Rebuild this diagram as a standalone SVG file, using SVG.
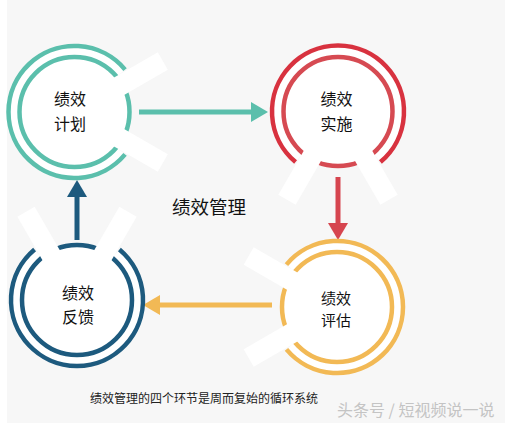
<svg xmlns="http://www.w3.org/2000/svg" width="505" height="423" viewBox="0 0 505 423">
  <defs>
    <style>
      .bg { fill: #f7f7f7; }
      .disc { fill: #ffffff; }
      .band { fill: none; stroke: #ffffff; stroke-width: 12; }
      .ring { fill: none; stroke-width: 4.5; }
      .bar { fill: #ffffff; }
      .lbl { font-family: "Noto Sans CJK SC", "Noto Sans", sans-serif; font-size: 16px; fill: #111111; text-anchor: middle; }
      .lbl-tight { font-size: 15px; }
      .title { font-family: "Noto Sans CJK SC", "Noto Sans", sans-serif; font-size: 18.5px; fill: #111111; }
      .cap { font-family: "Noto Sans CJK SC", "Noto Sans", sans-serif; font-size: 12px; fill: #222222; }
      .wm { font-family: "Noto Sans CJK SC", "Noto Sans", sans-serif; font-size: 16px; fill: #c4c4c4; }
      .conn { fill: none; stroke-width: 5; }
      .green { stroke: #5bbfac; }
      .red { stroke: #d8323f; }
      .red2 { stroke: #d64a52; }
      .yellow { stroke: #f2b955; }
      .blue { stroke: #1d5a7e; }
    </style>
    <marker id="ahGreen" markerUnits="userSpaceOnUse" markerWidth="17" markerHeight="20" refX="2" refY="10" orient="auto">
      <path d="M0,0 L17,10 L0,20 z" fill="#5bbfac"/>
    </marker>
    <marker id="ahRed" markerUnits="userSpaceOnUse" markerWidth="17" markerHeight="20" refX="2" refY="10" orient="auto">
      <path d="M0,0 L17,10 L0,20 z" fill="#d6454f"/>
    </marker>
    <marker id="ahYellow" markerUnits="userSpaceOnUse" markerWidth="17" markerHeight="20" refX="2" refY="10" orient="auto">
      <path d="M0,0 L17,10 L0,20 z" fill="#f2b955"/>
    </marker>
    <marker id="ahBlue" markerUnits="userSpaceOnUse" markerWidth="17" markerHeight="20" refX="2" refY="10" orient="auto">
      <path d="M0,0 L17,10 L0,20 z" fill="#1d5a7e"/>
    </marker>
  </defs>

  <rect x="0" y="0" width="505" height="423" fill="#ffffff"/>
  <rect class="bg" x="7" y="0" width="498" height="423"/>

  <g id="connectors">
    <line class="conn green" x1="139" y1="112" x2="253" y2="112" marker-end="url(#ahGreen)"/>
    <line class="conn" stroke="#d6454f" x1="338" y1="177" x2="338" y2="225" marker-end="url(#ahRed)"/>
    <line class="conn yellow" x1="272" y1="305" x2="158" y2="305" marker-end="url(#ahYellow)"/>
    <line class="conn blue" x1="77" y1="240" x2="77" y2="195" marker-end="url(#ahBlue)"/>
  </g>

  <g id="node-plan">
    <g transform="translate(74.5,112) rotate(0)">
      <circle class="disc" r="56"/>
      <path class="band" d="M46.74,39.22 A61,61 0 1 1 46.74,-39.22"/>
      <path class="ring green" d="M50.56,42.42 A66,66 0 1 1 50.56,-42.42"/>
      <circle class="ring green" r="55"/>
      <rect class="bar" x="45" y="-10" width="57" height="20" transform="rotate(30)"/>
      <rect class="bar" x="45" y="-10" width="57" height="20" transform="rotate(-30)"/>
    </g>
    <text class="lbl" x="70" y="105">绩效<tspan x="70" dy="25">计划</tspan></text>
  </g>

  <g id="node-implement">
    <g transform="translate(338,111.5) rotate(90)">
      <circle class="disc" r="56"/>
      <path class="band" d="M46.74,39.22 A61,61 0 1 1 46.74,-39.22"/>
      <path class="ring red" d="M50.56,42.42 A66,66 0 1 1 50.56,-42.42"/>
      <circle class="ring red2" r="54.5"/>
      <rect class="bar" x="45" y="-10" width="57" height="20" transform="rotate(30)"/>
      <rect class="bar" x="45" y="-10" width="57" height="20" transform="rotate(-30)"/>
    </g>
    <text class="lbl" x="336.5" y="105">绩效<tspan x="336.5" dy="25">实施</tspan></text>
  </g>

  <g id="node-evaluate">
    <g transform="translate(337,307) rotate(180)">
      <circle class="disc" r="56"/>
      <path class="band" d="M46.74,39.22 A61,61 0 1 1 46.74,-39.22"/>
      <path class="ring yellow" d="M50.56,42.42 A66,66 0 1 1 50.56,-42.42"/>
      <circle class="ring yellow" r="55"/>
      <rect class="bar" x="45" y="-10" width="57" height="20" transform="rotate(30)"/>
      <rect class="bar" x="45" y="-10" width="57" height="20" transform="rotate(-30)"/>
    </g>
    <text class="lbl lbl-tight" x="336" y="304">绩效<tspan x="336" dy="22">评估</tspan></text>
  </g>

  <g id="node-feedback">
    <g transform="translate(77,300) rotate(-90)">
      <circle class="disc" r="56"/>
      <path class="band" d="M46.74,39.22 A61,61 0 1 1 46.74,-39.22"/>
      <path class="ring blue" d="M50.56,42.42 A66,66 0 1 1 50.56,-42.42"/>
      <circle class="ring blue" r="55"/>
      <rect class="bar" x="45" y="-10" width="57" height="20" transform="rotate(30)"/>
      <rect class="bar" x="45" y="-10" width="57" height="20" transform="rotate(-30)"/>
    </g>
    <text class="lbl" x="78" y="299">绩效<tspan x="78" dy="24">反馈</tspan></text>
  </g>

  <text class="title" x="172" y="214">绩效管理</text>
  <text class="cap" x="90" y="403">绩效管理的四个环节是周而复始的循环系统</text>
  <text class="wm" x="337" y="416">头条号 / 短视频说一说</text>
</svg>
